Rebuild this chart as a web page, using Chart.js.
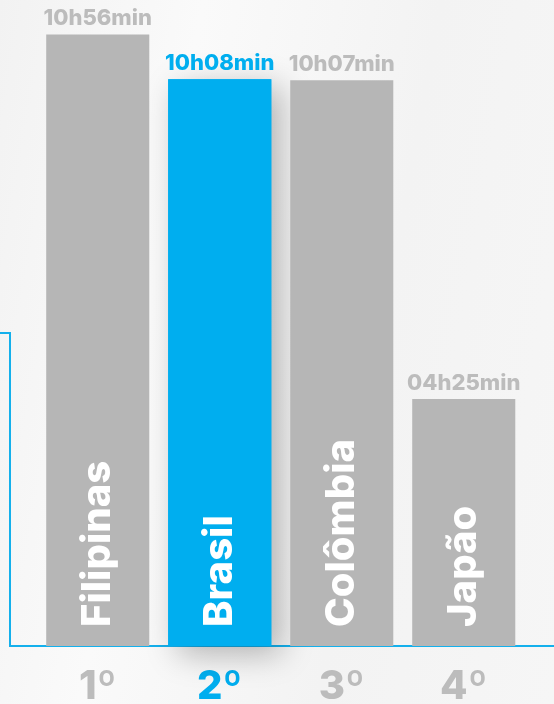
<!DOCTYPE html>
<html>
<head>
<meta charset="utf-8">
<script src="https://cdn.jsdelivr.net/npm/chart.js@4"></script>
<style>
html, body { margin: 0; padding: 0; }
body {
  width: 554px; height: 704px; overflow: hidden;
  background: linear-gradient(100deg, #f2f2f2 0%, #fafafa 30%, #f3f3f3 65%, #f6f6f6 100%);
}
#wrap { position: relative; width: 554px; height: 704px; }
</style>
</head>
<body>
<div id="wrap"><canvas id="myChart"></canvas></div>
<script>
var countries = ['Filipinas', 'Brasil', 'Colômbia', 'Japão'];
var ranks = ['1º', '2º', '3º', '4º'];
var minutes = [656, 608, 607, 265];
var timeLabels = ['10h56min', '10h08min', '10h07min', '04h25min'];
var highlight = 1;

var gray = '#b6b6b6';
var labelGray = '#bcbcbc';
var blue = '#00aeef';
var fontFamily = 'Inter, "Open Sans", sans-serif';

function barColor(i) { return i === highlight ? blue : gray; }

// frame line, shadow of the highlighted bar and the texts on the bars
var decorations = {
  id: 'decorations',
  beforeDatasetsDraw: function(chart) {
    var ctx = chart.ctx;
    var y0 = chart.scales.y.getPixelForValue(0);
    ctx.save();
    ctx.strokeStyle = '#14b0ec';
    ctx.lineWidth = 2;
    ctx.beginPath();
    ctx.moveTo(0, 333);
    ctx.lineTo(10, 333);
    ctx.lineTo(10, y0);
    ctx.lineTo(chart.width, y0);
    ctx.stroke();

    var b = chart.getDatasetMeta(0).data[highlight];
    ctx.shadowColor = 'rgba(0,0,0,0.28)';
    ctx.shadowBlur = 30;
    ctx.shadowOffsetX = 10;
    ctx.shadowOffsetY = 8;
    ctx.fillStyle = blue;
    ctx.fillRect(b.x - b.width / 2, b.y, b.width, y0 - b.y);
    ctx.restore();
  },
  afterDatasetsDraw: function(chart) {
    var ctx = chart.ctx;
    var y0 = chart.scales.y.getPixelForValue(0);
    chart.getDatasetMeta(0).data.forEach(function(bar, i) {
      ctx.save();
      ctx.font = '800 22px ' + fontFamily;
      ctx.fillStyle = i === highlight ? blue : labelGray;
      ctx.textAlign = 'center';
      ctx.textBaseline = 'alphabetic';
      ctx.fillText(timeLabels[i], bar.x, bar.y - 9);

      ctx.translate(bar.x + 12.5, y0 - 19);
      ctx.rotate(-Math.PI / 2);
      ctx.font = '800 40px ' + fontFamily;
      ctx.fillStyle = '#ffffff';
      ctx.textAlign = 'left';
      ctx.fillText(countries[i], 0, 0);
      ctx.restore();
    });
  }
};

var ctx = document.getElementById('myChart').getContext('2d');
var chart = new Chart(ctx, {
  type: 'bar',
  data: {
    labels: countries,
    datasets: [{
      data: minutes,
      backgroundColor: minutes.map(function(v, i) { return barColor(i); }),
      borderWidth: 0,
      barPercentage: 0.845,
      categoryPercentage: 1
    }]
  },
  options: {
    responsive: true,
    maintainAspectRatio: false,
    animation: false,
    layout: { padding: { left: 36.75, right: 29.25, top: 0, bottom: 0 } },
    plugins: {
      legend: { display: false },
      tooltip: { enabled: false }
    },
    scales: {
      x: {
        grid: { display: false, drawTicks: false },
        border: { display: false },
        afterFit: function(scale) { scale.height = 58; },
        ticks: {
          padding: 17,
          maxRotation: 0,
          callback: function(v, i) { return ranks[i]; },
          color: function(c) { return c.index === highlight ? blue : labelGray; },
          font: { family: fontFamily, size: 40, weight: '800' }
        }
      },
      y: { display: false, min: 0, max: 693 }
    }
  },
  plugins: [decorations]
});
</script>
</body>
</html>
